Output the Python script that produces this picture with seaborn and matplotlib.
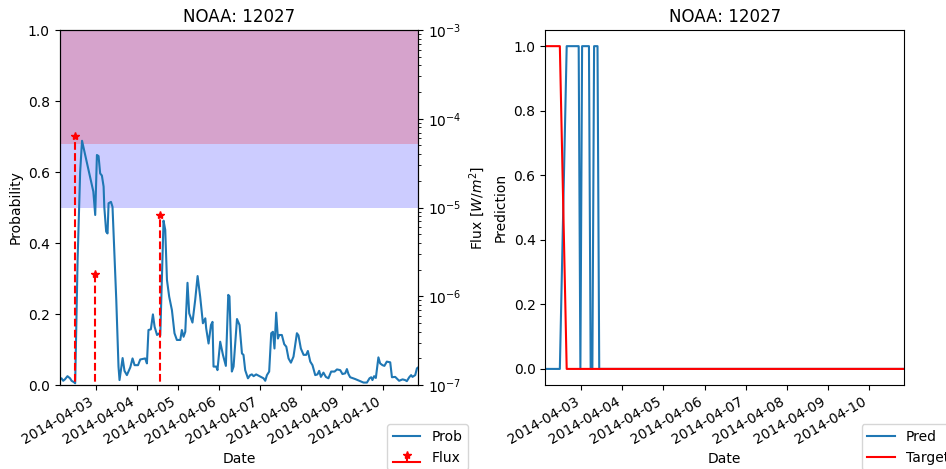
import pandas as pd
import seaborn as sns
import matplotlib
matplotlib.use("Agg")
import matplotlib.pyplot as plt
import matplotlib.dates as mdates

# hours since 2014-04-02 00:00 and probability values
prob_hours = [3.0, 4.1, 5.1, 6.1, 7.6, 9.1, 10.0, 11.4, 12.1, 13.5, 15.0, 16.1,
              22.7, 23.8, 24.8, 25.75, 26.7, 27.7, 28.7, 29.1, 30.2, 31.0, 31.6,
              33.0, 33.9, 34.9, 36.1, 37.4, 38.0, 38.8, 39.8, 40.9, 42.3, 44.3,
              45.6, 46.8, 48.8, 50.1, 53.0, 54.0, 54.9, 56.3, 57.5, 58.5, 59.9,
              60.8, 61.8, 63.7, 64.7, 65.7, 67.0, 68.6, 70.1, 71.5, 73.5, 74.4,
              75.4, 76.4, 77.7, 78.7, 80.6, 82.2, 83.6, 85.1, 86.7, 88.1, 88.6,
              90.0, 91.4, 92.3, 92.9, 94.5, 95.2, 96.8, 98.4, 100.1, 101.5, 102.2,
              103.6, 104.6, 106.6, 108.1, 109.5, 110.4, 111.4, 113.0, 114.3, 115.3,
              116.3, 117.8, 120.2, 122.1, 123.1, 124.1, 125.4, 126.6, 127.6, 128.5,
              129.5, 130.5, 131.3, 132.8, 134.2, 135.4, 136.7, 138.1, 139.6, 141.6,
              142.5, 143.9, 145.5, 147.0, 148.0, 149.4, 150.7, 152.3, 153.6, 154.6,
              155.6, 157.1, 158.5, 160.0, 161.6, 163.6, 165.0, 166.9, 168.2, 169.8,
              170.8, 171.7, 172.7, 175.6, 178.6, 180.5, 182.5, 184.0, 185.0, 185.7,
              186.7, 187.7, 189.2, 190.2, 191.6, 192.7, 194.1, 196.1, 197.1, 199.0,
              201.3, 203.3, 204.8, 205.8, 207.2, 208.3, 209.1, 210.7, 211.7, 212.5]
prob = [0.016, 0.019, 0.012, 0.016, 0.025, 0.019, 0.012, 0.008, 0.005, 0.35, 0.6, 0.688,
        0.545, 0.479, 0.648, 0.645, 0.596, 0.59, 0.559, 0.502, 0.432, 0.427, 0.512,
        0.516, 0.502, 0.38, 0.24, 0.052, 0.014, 0.042, 0.076, 0.04, 0.028, 0.05,
        0.075, 0.056, 0.056, 0.072, 0.075, 0.061, 0.155, 0.157, 0.199, 0.164, 0.141,
        0.145, 0.14, 0.463, 0.437, 0.296, 0.249, 0.211, 0.146, 0.127, 0.127, 0.155,
        0.136, 0.15, 0.288, 0.202, 0.176, 0.24, 0.307, 0.249, 0.174, 0.188, 0.16,
        0.117, 0.169, 0.178, 0.052, 0.052, 0.042, 0.122, 0.085, 0.054, 0.254, 0.25,
        0.038, 0.052, 0.186, 0.169, 0.089, 0.085, 0.042, 0.019, 0.028, 0.03,
        0.025, 0.03, 0.024, 0.019, 0.012, 0.028, 0.038, 0.146, 0.15, 0.103,
        0.204, 0.131, 0.141, 0.141, 0.115, 0.108, 0.075, 0.063, 0.08, 0.146,
        0.14, 0.103, 0.085, 0.085, 0.096, 0.066, 0.056, 0.028, 0.03, 0.04,
        0.023, 0.035, 0.023, 0.019, 0.038, 0.038, 0.044, 0.042, 0.031, 0.033,
        0.045, 0.031, 0.022, 0.017, 0.011, 0.007, 0.007, 0.019, 0.022, 0.014,
        0.025, 0.02, 0.078, 0.061, 0.056, 0.054, 0.066, 0.064, 0.022, 0.023,
        0.012, 0.016, 0.014, 0.011, 0.022, 0.028, 0.023, 0.028, 0.047, 0.05]

# flares (GOES flux)
flux_hours = [12.0, 23.6, 61.4]
flux = [6.4e-5, 1.8e-6, 8.2e-6]

# binary prediction vs target
pred_hours = [3.0, 11.5, 15.5, 22.5, 23.5, 24.5, 28.5, 29.5, 30.5, 31.5, 33.5, 34.5, 212.5]
pred = [0, 0, 1, 1, 0, 1, 1, 0, 0, 1, 1, 0, 0]
target_hours = [3.0, 11.5, 15.5, 212.5]
target = [1, 1, 0, 0]

base = pd.Timestamp("2014-04-02")
to_dt = lambda h: base + pd.to_timedelta(h, unit="h")
t_prob = to_dt(prob_hours)
t_flux = to_dt(flux_hours)
t_pred = to_dt(pred_hours)
t_target = to_dt(target_hours)
xmin, xmax = to_dt([3.0])[0], to_dt([212.5])[0]

fig, (ax, axr) = plt.subplots(1, 2, figsize=(9.46, 4.69), dpi=100)
fig.subplots_adjust(left=0.063, right=0.9556, bottom=0.179, top=0.936, wspace=0.354)

# ---- left panel
ax.axhspan(0.5, 1.0, color="blue", alpha=0.2, lw=0)
ax.axhspan(0.68, 1.0, color="red", alpha=0.2, lw=0)
sns.lineplot(x=t_prob, y=prob, ax=ax, color="C0", lw=1.5, label="Prob")
ax.set_ylim(0, 1)
ax.set_xlim(xmin, xmax)
ax.set_ylabel("Probability")
ax.set_xlabel("Date")
ax.set_title("NOAA: 12027")

ax2 = ax.twinx()
ax2.set_yscale("log")
# baseline sits below the visible range, stems run down to the bottom edge
ax2.stem(mdates.date2num(t_flux), flux, linefmt="r--", markerfmt="r*",
         basefmt="r-", bottom=1e-8, label="Flux")
ax2.set_ylim(1e-7, 1e-3)
ax2.set_ylabel("Flux [$W/m^2$]")
ax.set_xlim(xmin, xmax)

if ax.get_legend() is not None:
    ax.get_legend().remove()
h1, l1 = ax.get_legend_handles_labels()
h2, l2 = ax2.get_legend_handles_labels()
ax2.legend(h1 + h2, l1 + l2, loc="upper left", bbox_to_anchor=(0.913, -0.11),
           borderaxespad=0)

# ---- right panel
sns.lineplot(x=t_pred, y=pred, ax=axr, color="C0", lw=1.5, label="Pred")
sns.lineplot(x=t_target, y=target, ax=axr, color="red", lw=1.5, label="Target")
axr.set_xlim(xmin, xmax)
axr.set_ylim(-0.05, 1.05)
axr.set_ylabel("Prediction")
axr.set_xlabel("Date")
axr.set_title("NOAA: 12027")
axr.legend(loc="upper left", bbox_to_anchor=(0.882, -0.11), borderaxespad=0)

for a in (ax, axr):
    a.xaxis.set_major_locator(mdates.DayLocator())
    a.xaxis.set_major_formatter(mdates.DateFormatter("%Y-%m-%d"))
    for lab in a.get_xticklabels():
        lab.set_rotation(30)
        lab.set_ha("right")

fig.savefig("out.png", dpi=100)
